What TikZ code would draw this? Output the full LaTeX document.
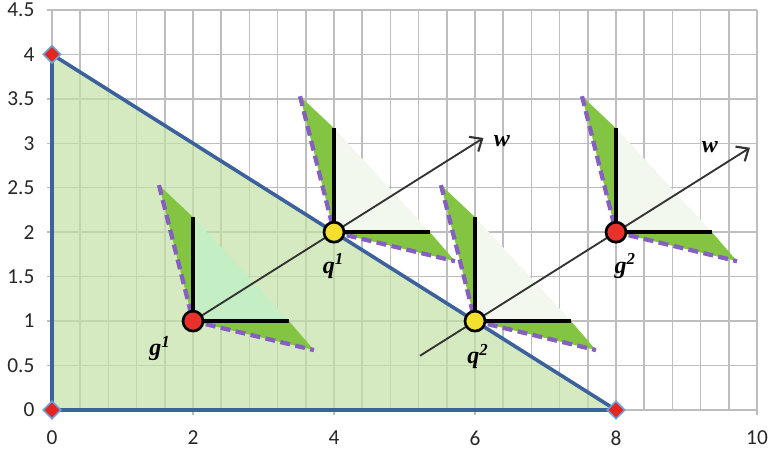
\documentclass[tikz,border=0pt]{standalone}
\usepackage{fontspec}
\setmainfont{Carlito}
\newfontfamily\timesf{Liberation Serif}
\usetikzlibrary{arrows.meta,calc,shapes.geometric}
\definecolor{gridgray}{HTML}{BEBEBE}
\definecolor{regionfill}{HTML}{C3E1A6}
\definecolor{blueline}{HTML}{3D619C}
\definecolor{markred}{HTML}{E3261F}
\definecolor{markblue}{HTML}{6FA0D6}
\definecolor{conedark}{HTML}{84C443}
\definecolor{conepale}{HTML}{F3F8EE}
\definecolor{conemint}{HTML}{C4EEC4}
\definecolor{dashpurple}{HTML}{8660C0}
\definecolor{arrowgray}{HTML}{333333}
\definecolor{gfill}{HTML}{E8312A}
\definecolor{qfill}{HTML}{F4DF2E}
\tikzset{
  gridline/.style={draw=gridgray,line width=1.1pt},
  axlabel/.style={font=\fontsize{16}{18}\selectfont,text=black!85,inner sep=0pt},
  ptlabel/.style={font=\timesf\bfseries\itshape\fontsize{18}{20}\selectfont,inner sep=0pt},
  vertexmark/.style={diamond,fill=markred,draw=markblue,line width=1.2pt,minimum width=13.5pt,minimum height=13.5pt,inner sep=0pt},
  conebar/.style={draw=black,line width=3pt},
  conedash/.style={draw=dashpurple,line width=3.2pt,dash pattern=on 7.5pt off 4pt},
  warrow/.style={draw=arrowgray,line width=1.4pt,-{Straight Barb[length=7.5pt,width=13pt,line width=1.6pt]}},
  gpoint/.style={circle,fill=gfill,draw=black,line width=2pt,minimum size=15pt,inner sep=0pt},
  qpoint/.style={circle,fill=qfill,draw=black,line width=2pt,minimum size=15pt,inner sep=0pt},
}
\newcommand{\drawcone}[2]{%
  \fill[#2] (#1) -- ++(0pt,78pt) -- ++(72pt,-78pt) -- cycle;
  \fill[conedark] (#1) -- ++(-25.5pt,102pt) -- ++(25.5pt,-24pt) -- cycle;
  \fill[conedark] (#1) -- ++(72pt,0pt) -- ++(18.75pt,-21.75pt) -- cycle;
  \path[conedash] ($(#1)+(-25.5pt,102pt)$) -- (#1) -- ++(90.75pt,-21.75pt);
  \path[conebar] ($(#1)+(0pt,78pt)$) -- (#1) -- ++(72pt,0pt);
}
\begin{document}
\begin{tikzpicture}[x=0.75pt,y=-0.75pt]
\useasboundingbox (0,0) rectangle (769,454);
\begin{scope}[shift={(52,410)},x=52.875pt,y=66.675pt]
  % grid
  \foreach \i in {0,...,25} \draw[gridline] (\i*0.4,0) -- (\i*0.4,4.5);
  \foreach \j in {0,...,9} \draw[gridline] (0,\j*0.5) ++(-4pt,0pt) -- (10,\j*0.5);
  \foreach \i in {0,2,...,10} \draw[gridline] (\i,0) -- ++(0pt,-4pt);
  % axis labels
  \foreach \v/\t [count=\k] in {0/0,0.5/0.5,1/1,1.5/1.5,2/2,2.5/2.5,3/3,3.5/3.5,4/4,4.5/4.5}
    \node[axlabel,anchor=east] (yl\k) at ($(0,\v)+(-13pt,0pt)$) {\t};
  \foreach \i in {0,2,...,10}
    \node[axlabel] (xl\i) at ($(\i,0)+(0pt,-21pt)$) {\i};
  % feasible region
  \fill[regionfill,opacity=0.7] (0,0) -- (0,4) -- (8,0) -- cycle;
  \draw[blueline,line width=2.7pt,line join=round] (0,0) -- (0,4) -- (8,0) -- cycle;
  \node[vertexmark] (v1) at (0,0) {};
  \node[vertexmark] (v2) at (0,4) {};
  \node[vertexmark] (v3) at (8,0) {};
  % points
  \coordinate (G1) at (2,1);
  \coordinate (Q1) at (4,2);
  \coordinate (Q2) at (6,1);
  \coordinate (G2) at (8,2);
  \drawcone{G1}{conemint}
  \drawcone{Q1}{conepale}
  \drawcone{Q2}{conepale}
  \drawcone{G2}{conepale}
  % w arrows
  \coordinate (w1tip) at (6.12,3.06);
  \coordinate (w2start) at (5.22,0.61);
  \coordinate (w2tip) at (9.9,2.95);
  \draw[warrow] (G1) -- (w1tip);
  \draw[warrow] (w2start) -- (w2tip);
  \node[gpoint] (g1) at (G1) {};
  \node[qpoint] (q1) at (Q1) {};
  \node[qpoint] (q2) at (Q2) {};
  \node[gpoint] (g2) at (G2) {};
  % labels
  \node[ptlabel] (lg1) at (1.53,0.69) {g\textsuperscript{1}};
  \node[ptlabel] (lq1) at (3.99,1.62) {q\textsuperscript{1}};
  \node[ptlabel] (lq2) at (6.04,0.6) {q\textsuperscript{2}};
  \node[ptlabel] (lg2) at (8.13,1.62) {g\textsuperscript{2}};
  \node[ptlabel] (lw1) at (6.38,3.03) {w};
  \node[ptlabel] (lw2) at (9.33,2.96) {w};
\end{scope}
\end{tikzpicture}
\end{document}
